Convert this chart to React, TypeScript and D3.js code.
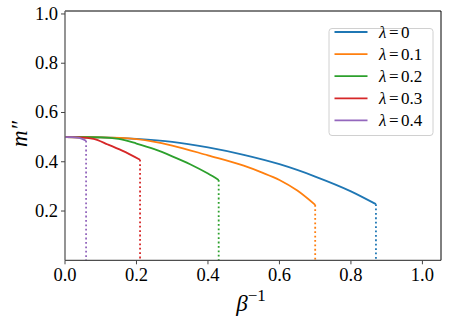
import React from "react";
import * as d3 from "d3";

const lambdas = ["0", "0.1", "0.2", "0.3", "0.4"];
const colors = ["#1f77b4", "#ff7f0e", "#2ca02c", "#d62728", "#9467bd"];

const xs0 = [0, 0.1, 0.2, 0.3, 0.4, 0.5, 0.6, 0.7, 0.8, 0.87];
const ys0 = [0.5, 0.499, 0.493, 0.481, 0.458, 0.428, 0.39, 0.34, 0.28, 0.228];
const xs1 = [0, 0.1, 0.2, 0.3, 0.4, 0.5, 0.55, 0.6, 0.65, 0.7];
const ys1 = [0.5, 0.499, 0.492, 0.466, 0.426, 0.384, 0.357, 0.326, 0.283, 0.225];
const xs2 = [0, 0.1, 0.15, 0.2, 0.25, 0.3, 0.35, 0.4, 0.43];
const ys2 = [0.5, 0.499, 0.493, 0.474, 0.451, 0.422, 0.39, 0.352, 0.326];
const xs3 = [0, 0.04, 0.08, 0.12, 0.16, 0.21];
const ys3 = [0.5, 0.499, 0.493, 0.47, 0.445, 0.408];
const xs4 = [0, 0.02, 0.04, 0.059];
const ys4 = [0.5, 0.5, 0.497, 0.485];

const seriesX = [xs0, xs1, xs2, xs3, xs4];
const seriesY = [ys0, ys1, ys2, ys3, ys4];

const xTicks = [0, 0.2, 0.4, 0.6, 0.8, 1.0];
const yTicks = [0.2, 0.4, 0.6, 0.8, 1.0];

export default function App() {
  const W = 449, H = 324;
  const L = 65, R = 441, T = 11, B = 260.3;
  const x = d3.scaleLinear().domain([0, 1.052]).range([L, R]);
  const y = d3.scaleLinear().domain([0, 1.012]).range([B, T]);
  const line = d3
    .line<[number, number]>()
    .x((d) => x(d[0]))
    .y((d) => y(d[1]))
    .curve(d3.curveMonotoneX);
  const font = "'Liberation Serif', 'DejaVu Serif', serif";
  const legX = 329, legY = 28.5, legW = 104, legH = 107;
  return (
    <svg width={W} height={H} style={{ position: "absolute", left: 0, top: 0 }}>
      <rect x={0} y={0} width={W} height={H} fill="white" />
      {seriesX.map((xs, i) => {
        const pts = xs.map((v, j) => [v, seriesY[i][j]] as [number, number]);
        const last = pts[pts.length - 1];
        return (
          <g key={i}>
            <path d={line(pts) || ""} fill="none" stroke={colors[i]} strokeWidth={1.8} />
            <line
              x1={x(last[0])}
              x2={x(last[0])}
              y1={y(last[1])}
              y2={y(0)}
              stroke={colors[i]}
              strokeWidth={1.8}
              strokeDasharray="1.8,2.6"
            />
          </g>
        );
      })}
      {/* spines */}
      <line x1={L} x2={R} y1={T} y2={T} stroke="black" strokeWidth={1} />
      <line x1={R} x2={R} y1={T} y2={B} stroke="black" strokeWidth={1} />
      <line x1={L} x2={R} y1={B} y2={B} stroke="#222" strokeWidth={1} />
      <line x1={L} x2={L} y1={T} y2={B} stroke="#666" strokeWidth={1.4} />
      {xTicks.map((t) => (
        <g key={"x" + t}>
          <line x1={x(t)} x2={x(t)} y1={B} y2={B + 4} stroke="#444" strokeWidth={1} />
          <text x={x(t)} y={B + 21} textAnchor="middle" fontFamily={font} fontSize={18.5}>
            {t.toFixed(1)}
          </text>
        </g>
      ))}
      {yTicks.map((t) => (
        <g key={"y" + t}>
          <line x1={L - 4} x2={L} y1={y(t)} y2={y(t)} stroke="#444" strokeWidth={1} />
          <text x={L - 7} y={y(t) + 6} textAnchor="end" fontFamily={font} fontSize={18.5}>
            {t.toFixed(1)}
          </text>
        </g>
      ))}
      <text
        transform={`translate(27,134) rotate(-90)`}
        textAnchor="middle"
        fontFamily={font}
        fontSize={23}
        fontStyle="italic"
      >
        m″
      </text>
      <text x={251} y={311} textAnchor="middle" fontFamily={font} fontSize={23} fontStyle="italic">
        β
        <tspan dy={-10} fontSize={17} fontStyle="normal">
          −1
        </tspan>
      </text>
      {/* legend */}
      <rect x={legX} y={legY} width={legW} height={legH} rx={3} fill="white" fillOpacity={0.85} stroke="#d0d0d0" strokeWidth={1} />
      {lambdas.map((lab, i) => {
        const ry = 31.7 + i * 22.1 + 0.3;
        return (
          <g key={lab}>
            <line x1={334.5} x2={367.5} y1={ry} y2={ry} stroke={colors[i]} strokeWidth={1.8} />
            <text x={379} y={ry + 5.5} fontFamily={font} fontSize={17}>
              <tspan fontStyle="italic">λ</tspan>
              <tspan dx={2.5}>=</tspan>
              <tspan dx={2.5}>{lab}</tspan>
            </text>
          </g>
        );
      })}
    </svg>
  );
}
